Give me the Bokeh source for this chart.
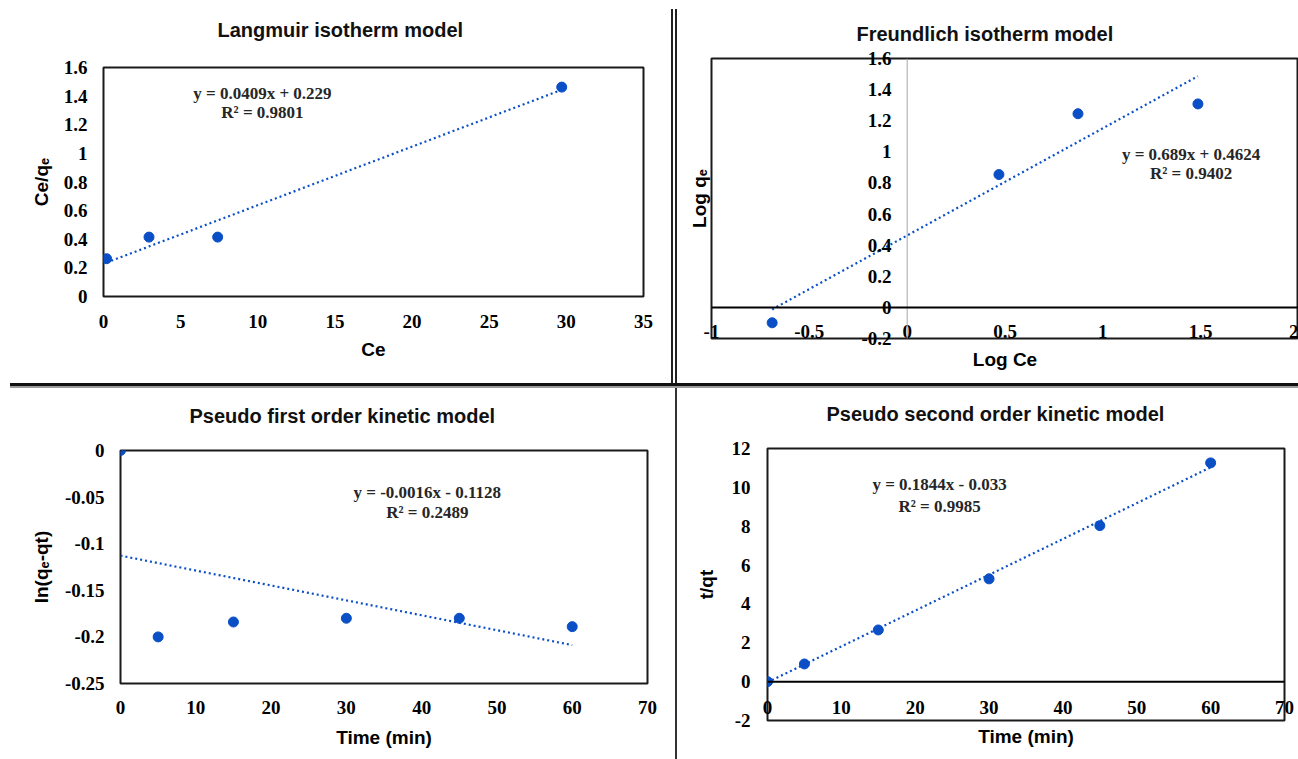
from bokeh.plotting import figure
from bokeh.models import (Range1d, FixedTicker, CustomJSTickFormatter,
                          Label, Title, Span, Div)
from bokeh.layouts import column, row
from bokeh.embed import file_html
from bokeh.resources import INLINE

# ---------------- data ----------------
langmuir_ce = [0.2, 2.95, 7.4, 29.7]
langmuir_ce_qe = [0.264, 0.415, 0.415, 1.463]
langmuir_fit = [0.0409, 0.229]            # slope, intercept
langmuir_eq = ["y = 0.0409x + 0.229", "R² = 0.9801"]

freund_log_ce = [-0.69, 0.469, 0.873, 1.486]
freund_log_qe = [-0.099, 0.854, 1.245, 1.308]
freund_fit = [0.689, 0.4624]
freund_eq = ["y = 0.689x + 0.4624", "R² = 0.9402"]

time_min = [0, 5, 15, 30, 45, 60]
pfo_ln = [0.0, -0.200, -0.184, -0.180, -0.180, -0.189]
pfo_fit = [-0.0016, -0.1128]
pfo_eq = ["y = -0.0016x - 0.1128", "R² = 0.2489"]

pso_t_qt = [0.0, 0.91, 2.66, 5.29, 8.03, 11.26]
pso_fit = [0.1844, -0.033]
pso_eq = ["y = 0.1844x - 0.033", "R² = 0.9985"]

titles = ["Langmuir isotherm model", "Freundlich isotherm model",
          "Pseudo first order kinetic model", "Pseudo second order kinetic model"]
x_labels = ["Ce", "Log Ce", "Time (min)", "Time (min)"]
y_labels = ["Ce/qₑ", "Log qₑ", "ln(qₑ-qt)", "t/qt"]

langmuir_xticks = [0, 5, 10, 15, 20, 25, 30, 35]
langmuir_yticks = [0, 0.2, 0.4, 0.6, 0.8, 1, 1.2, 1.4, 1.6]
freund_xticks = [-1, -0.5, 0, 0.5, 1, 1.5, 2]
freund_yticks = [-0.2, 0, 0.2, 0.4, 0.6, 0.8, 1, 1.2, 1.4, 1.6]
time_xticks = [0, 10, 20, 30, 40, 50, 60, 70]
pfo_yticks = [-0.25, -0.2, -0.15, -0.1, -0.05, 0]
pso_yticks = [-2, 0, 2, 4, 6, 8, 10, 12]

# ---------------- styles ----------------
BLUE = "#0b4fc6"
SERIF = "Liberation Serif"
SANS = "Liberation Sans"
fmt = CustomJSTickFormatter(code="return String(Math.round(tick*1000)/1000);")


def style_axis(ax, ticks, label_standoff):
    ax.ticker = FixedTicker(ticks=ticks)
    ax.formatter = fmt
    ax.major_tick_line_color = None
    ax.minor_tick_line_color = None
    ax.axis_line_color = None
    ax.major_tick_out = 0
    ax.major_tick_in = 0
    ax.major_label_standoff = label_standoff
    ax.major_label_text_font = SERIF
    ax.major_label_text_font_style = "bold"
    ax.major_label_text_font_size = "19px"
    ax.major_label_text_color = "black"


def style_label(ax, text, standoff):
    ax.axis_label = text
    ax.axis_label_standoff = standoff
    ax.axis_label_text_font = SANS
    ax.axis_label_text_font_style = "bold"
    ax.axis_label_text_font_size = "19px"
    ax.axis_label_text_color = "black"


def make_fig(w, h, xr, yr, mb, title, t_offset, t_gap):
    p = figure(width=w, height=h, x_range=Range1d(*xr), y_range=Range1d(*yr),
               output_backend="svg", toolbar_location=None, title=None,
               frame_align=False,
               min_border_left=mb[0], min_border_right=mb[1],
               min_border_top=mb[2], min_border_bottom=mb[3])
    xa, ya = p.below[0], p.left[0]
    p.grid.visible = False
    p.outline_line_color = "#1a1a1a"
    p.outline_line_width = 2
    p.background_fill_color = "white"
    p.border_fill_color = "white"
    # blank spacer between frame and title, then the title itself
    p.add_layout(Title(text=" ", standoff=t_gap, text_font_size="1px"), "above")
    p.add_layout(Title(text=title, align="left", offset=t_offset, standoff=0,
                       vertical_align="top", text_font=SANS, text_font_style="bold",
                       text_font_size="20px", text_color="#111111"), "above")
    return p, xa, ya


def add_series(p, xs, ys, fit, eq, eq_x, eq_y, eq_dy):
    p.scatter(xs, ys, size=10, color=BLUE)
    x0, x1 = min(xs), max(xs)
    p.line([x0, x1], [fit[0] * x0 + fit[1], fit[0] * x1 + fit[1]],
           line_color=BLUE, line_width=2.2, line_dash="2 3")
    for i, t in enumerate(eq):
        p.add_layout(Label(x=eq_x, y=eq_y - i * eq_dy, text=t, text_align="center",
                           text_baseline="middle", text_font=SERIF,
                           text_font_style="bold", text_font_size="17px",
                           text_color="#262626"))


# ---------------- panel 1: Langmuir ----------------
p1, x1a, y1a = make_fig(670, 383, (0, 35), (0, 1.6), (103, 27, 67, 87), titles[0], 114, 22)
style_axis(x1a, langmuir_xticks, 18)
style_axis(y1a, langmuir_yticks, 16)
style_label(x1a, x_labels[0], 8)
style_label(y1a, y_labels[0], 9)
add_series(p1, langmuir_ce, langmuir_ce_qe, langmuir_fit, langmuir_eq, 10.3, 1.418, 0.132)

# ---------------- panel 2: Freundlich ----------------
p2, x2a, y2a = make_fig(621, 383, (-1, 2), (-0.2, 1.6), (34, 0, 58, 45), titles[1], 145, 9)
style_axis(x2a, freund_xticks, -14)
style_axis(y2a, freund_yticks, -180)   # labels sit beside the vertical axis at x = 0
style_label(x2a, x_labels[1], 8)
style_label(y2a, y_labels[1], 148)
p2.add_layout(Span(location=0, dimension="height", line_color="#a6a6a6", line_width=1))
p2.add_layout(Span(location=0, dimension="width", line_color="black", line_width=2))
add_series(p2, freund_log_ce, freund_log_qe, freund_fit, freund_eq, 1.451, 0.983, 0.122)

# ---------------- panel 3: pseudo first order ----------------
p3, x3a, y3a = make_fig(675, 371, (0, 70), (-0.25, 0), (120, 28, 62, 76), titles[2], 69, 19)
style_axis(x3a, time_xticks, 17)
style_axis(y3a, pfo_yticks, 16)
style_label(x3a, x_labels[2], 10)
style_label(y3a, y_labels[2], 10)
add_series(p3, time_min, pfo_ln, pfo_fit, pfo_eq, 40.75, -0.0451, 0.0214)

# ---------------- panel 4: pseudo second order ----------------
p4, x4a, y4a = make_fig(621, 371, (0, 70), (-2, 12), (90, 14, 60, 39), titles[3], 59, 19)
style_axis(x4a, time_xticks, -20)
style_axis(y4a, pso_yticks, 17)
style_label(x4a, x_labels[3], 9)
style_label(y4a, y_labels[3], 12)
p4.add_layout(Span(location=0, dimension="width", line_color="black", line_width=2))
add_series(p4, time_min, pso_t_qt, pso_fit, pso_eq, 23.3, 10.15, 1.13)

# ---------------- quadrant separators ----------------
vsep_top = Div(width=7, height=383, margin=0, styles={
    "background": "linear-gradient(to right, white 0px, white 1px, #222 1px, #222 3px, "
                  "white 3px, white 5px, #222 5px, #222 7px) bottom / 100% calc(100% - 9px) no-repeat"})
hsep = Div(width=1298, height=5, margin=0, styles={
    "background": "linear-gradient(to bottom, #111 0px, #111 3px, #9a9a9a 3px, #9a9a9a 5px) "
                  "right / calc(100% - 10px) 100% no-repeat"})
vsep_bot = Div(width=2, height=371, margin=0, styles={"background": "#333333"})

layout = column(row(p1, vsep_top, p2), hsep, row(p3, vsep_bot, p4))
open("out.html", "w").write(file_html(layout, INLINE))
